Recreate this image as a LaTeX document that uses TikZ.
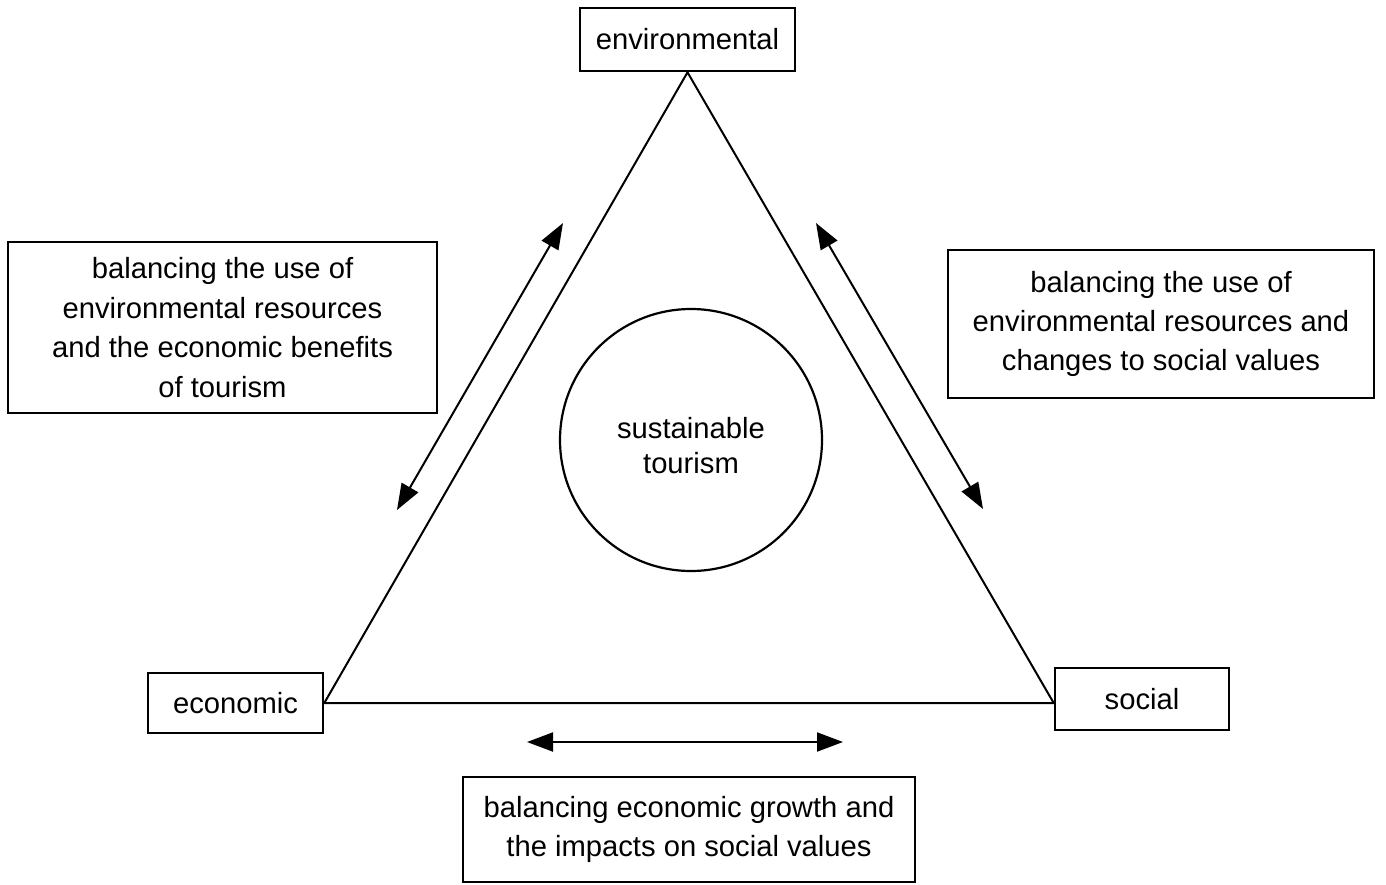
\documentclass[tikz,border=0pt]{standalone}
\usepackage{fontspec}
\setmainfont{Liberation Sans}
\usetikzlibrary{arrows.meta}

\begin{document}
\begin{tikzpicture}[
  x=0.5pt,y=-0.5pt,
  every node/.style={align=center,font=\fontsize{14.6}{19.7}\selectfont},
  pillar/.style={draw,line width=1.3pt,rectangle,inner sep=0pt},
  balance/.style={draw,line width=1.3pt,rectangle,inner sep=0pt},
  core/.style={draw,line width=1.1pt,circle,minimum size=131pt,inner sep=0pt,
    font=\fontsize{14.6}{17.5}\selectfont},
  pillarToPillar/.style={line width=1pt,line join=miter},
  tradeOff/.style={{Triangle[length=13pt,width=9.5pt]}-{Triangle[length=13pt,width=9.5pt]},line width=1pt}]

  % fixed frame of the picture
  \useasboundingbox (0,0) rectangle (1386,884);

  % the three pillars
  \node[pillar,minimum width=107.5pt,minimum height=31.5pt] (env) at (687.5,39.5) {environmental};
  \node[pillar,minimum width=87.5pt,minimum height=30pt] (eco) at (235.5,703) {economic};
  \node[pillar,minimum width=87pt,minimum height=31pt] (soc) at (1142,699) {social};

  % centre (text sits a little low in the circle)
  \node[core] (sust) at (691,440)
    {\raisebox{-4.5pt}[\height][\depth]{\begin{tabular}{@{}c@{}}sustainable\\tourism\end{tabular}}};

  % balancing boxes
  \node[balance,minimum width=214.5pt,minimum height=85.5pt] (envEco) at (222.5,327.5)
    {balancing the use of\\environmental resources\\and the economic benefits\\of tourism};
  \node[balance,minimum width=213pt,minimum height=74pt] (envSoc) at (1161,324)
    {balancing the use of\\environmental resources and\\changes to social values};
  \node[balance,minimum width=226pt,minimum height=52.5pt] (ecoSoc) at (689,829.5)
    {balancing economic growth and\\the impacts on social values};

  % triangle between the pillars
  \draw[pillarToPillar] (env.south) -- (soc.west |- eco.east) -- (eco.east) -- cycle;

  % ends of the double arrows
  \coordinate (envEcoA) at (397,510);
  \coordinate (envEcoB) at (563,223);
  \coordinate (envSocA) at (816,223);
  \coordinate (envSocB) at (983,509);
  \coordinate (ecoSocA) at (527,742);
  \coordinate (ecoSocB) at (843,742);

  \draw[tradeOff] (envEcoA) -- (envEcoB);
  \draw[tradeOff] (envSocA) -- (envSocB);
  \draw[tradeOff] (ecoSocA) -- (ecoSocB);
\end{tikzpicture}
\end{document}
